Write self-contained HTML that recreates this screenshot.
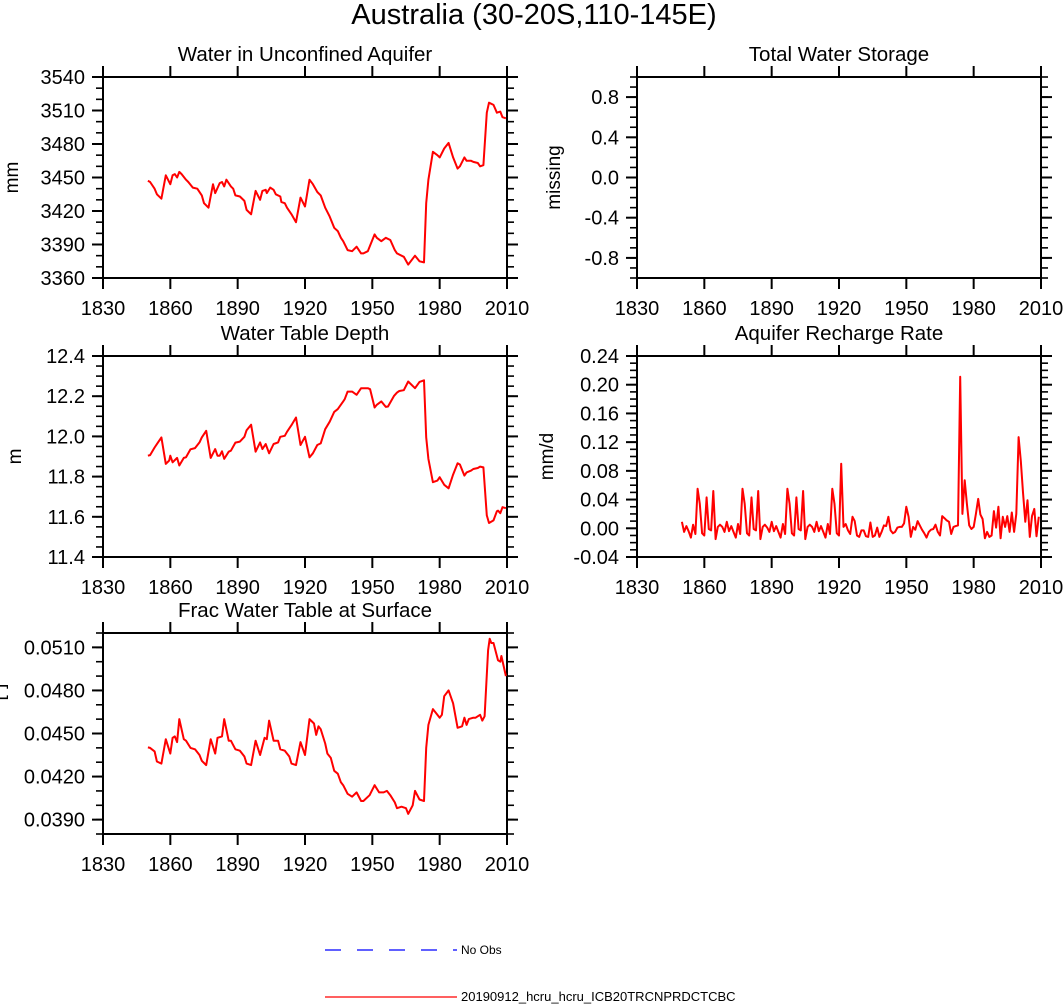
<!DOCTYPE html>
<html><head><meta charset="utf-8"><style>
html,body{margin:0;padding:0;background:#fff;}
svg{display:block;font-family:"Liberation Sans",sans-serif;}
</style></head><body>
<svg id="fig" width="1063" height="1004" viewBox="0 0 1063 1004">
<text x="534" y="24" text-anchor="middle" font-size="29">Australia (30-20S,110-145E)</text>
<g id="panels"></g>
<g>
<line x1="325" y1="950" x2="457" y2="950" stroke="#0000ff" stroke-width="1.3" stroke-dasharray="16,16"/>
<text x="461" y="954" font-size="12">No Obs</text>
<line x1="325" y1="997" x2="457" y2="997" stroke="#ff0000" stroke-width="1.3"/>
<text x="461" y="1001" font-size="13">20190912_hcru_hcru_ICB20TRCNPRDCTCBC</text>
</g>
</svg>
<script>
const xTicks = [1830,1860,1890,1920,1950,1980,2010];

const aqYears = [1850,1851,1853,1854,1856,1858,1860,1861,1862,1863,1864,1865,1867,1868,1870,1872,1874,1875,1877,1879,1880,1882,1883,1884,1885,1887,1888,1889,1891,1893,1894,1896,1898,1900,1901,1902.5,1903,1904.5,1906,1907,1909,1909.5,1911,1912,1914,1916,1918,1920,1922,1923.5,1925.5,1927,1929,1931,1933,1934.6,1936,1937,1939,1941,1943,1945,1946,1948,1951,1952,1954,1956,1958,1960,1961,1964,1966,1969,1971,1973,1974,1975,1977,1979,1980,1982,1984,1986,1988,1989,1991,1992,1994,1995,1997,1998,1999.5,2001,2002,2004,2005.5,2007,2008,2009.5];
const aqValues = [3447,3446,3440,3435,3431,3452,3444,3452,3453,3450,3455,3453,3448,3446,3441,3440,3434,3427,3423,3444,3436,3445,3446,3442,3448,3442,3440,3434,3433,3429,3421,3417,3438,3430,3438,3439,3436,3441,3439,3435,3433,3428,3427,3423,3417,3410,3432,3424,3448,3444,3437,3434,3423,3415,3405,3402,3396,3393,3385,3384,3388,3382,3382,3384,3399,3396,3393,3396,3394,3385,3382,3379,3372,3380,3375,3374,3427,3448,3473,3470,3468,3476,3481,3468,3458,3460,3468,3465,3465,3464,3463,3460,3461,3508,3517,3515,3508,3509,3504,3503];

const wtdYears = [1850,1851,1853,1854.5,1856,1858,1859.5,1860,1861,1863,1864,1866,1867,1869,1871,1873,1874,1876,1878,1880,1881,1882,1883,1884,1886,1887,1889,1891,1893,1894,1896,1898,1900,1901,1902.5,1904,1906,1908,1909,1911,1912,1914,1916,1918,1920,1922,1923.5,1925.5,1927,1929,1931,1933,1934.6,1937,1937.7,1939,1941,1943,1945,1948,1949,1951,1952,1954,1956,1957,1959.7,1961,1962,1964,1966,1969,1971,1973,1974,1975,1977,1979,1980,1982,1984,1986,1988,1989,1991,1992,1994,1995,1997,1998,1999.5,2001,2002,2004,2005.5,2006,2007,2008,2009.5];
const wtdValues = [11.904,11.907,11.945,11.970,11.995,11.863,11.880,11.904,11.871,11.893,11.855,11.893,11.896,11.936,11.942,11.970,11.995,12.028,11.893,11.937,11.904,11.904,11.926,11.888,11.924,11.929,11.969,11.974,11.998,12.031,12.058,11.924,11.970,11.937,11.962,11.916,11.962,11.970,11.998,12.003,12.023,12.056,12.094,11.957,11.998,11.896,11.916,11.957,11.965,12.036,12.073,12.122,12.136,12.174,12.185,12.223,12.223,12.207,12.240,12.240,12.235,12.144,12.157,12.174,12.147,12.149,12.202,12.218,12.226,12.230,12.273,12.240,12.271,12.279,11.995,11.888,11.772,11.780,11.797,11.759,11.742,11.810,11.866,11.860,11.805,11.821,11.830,11.838,11.843,11.850,11.846,11.607,11.569,11.582,11.628,11.631,11.618,11.648,11.643];

const rchStart = 1850;
const rchValues = [.009,-.005,.003,-.004,-.013,.005,-.008,.055,.034,-.007,-.010,.043,-.001,-.003,.052,-.015,.002,.005,.002,-.005,
.009,-.004,.003,-.005,-.013,.006,-.008,.055,.034,-.007,-.010,.043,-.001,-.003,.052,-.015,.002,.005,.001,-.005,
.009,-.004,.003,-.005,-.013,.006,-.008,.055,.034,-.007,-.010,.043,-.001,-.003,.052,-.015,.002,.005,.002,-.005,
.009,-.004,.003,-.005,-.013,.006,-.008,.055,.034,-.007,-.010,.090,.002,.006,-.003,-.008,.016,.010,-.010,-.012,
-.003,-.003,-.011,-.012,.008,-.012,-.010,.001,-.012,-.005,.004,.003,.016,-.003,-.007,-.005,.001,.002,.002,.007,
.030,.016,-.012,.002,-.002,.010,.004,-.002,-.007,-.013,-.005,-.002,-.001,.005,-.005,-.010,.017,.014,.011,.009,
-.008,.002,.003,.004,.211,.020,.067,.034,.004,-.001,.002,.020,.041,.019,.013,-.014,-.005,-.012,-.010,.024,
.001,.030,-.014,.016,.002,.017,-.005,.022,-.005,.020,.127,.094,.050,.009,.039,-.012,.017,.027,-.011,.016];

const fracYears = [1850,1851,1853,1854,1856,1858,1860,1861,1862,1863,1864,1866,1867,1869,1871,1873,1874,1876,1878,1880,1881,1883,1884,1886,1887,1889,1891,1893,1894,1896,1898,1900,1902,1903,1904,1906,1908,1909,1911,1913,1914,1916,1918,1920,1922,1924,1925,1926,1927,1929,1930,1931.5,1933,1934.6,1936,1937,1939,1941,1943,1945,1946,1948.8,1951,1953,1955,1956.5,1958,1960,1961,1963,1965,1966,1968,1969,1971,1973,1974,1975,1977,1978,1980,1981,1982,1984,1986,1988,1990,1991,1992,1993,1995,1996,1998,1999,2000,2001.6,2002.3,2003,2004,2006,2007,2007.5,2009.5];
const fracValues = [.04403,.04400,.04375,.04305,.04290,.04460,.04360,.04470,.04480,.04440,.04600,.04460,.04450,.04400,.04390,.04350,.04310,.04280,.04460,.04360,.04470,.04480,.04600,.04450,.04450,.04390,.04380,.04340,.04290,.04280,.04450,.04350,.04470,.04460,.04590,.04450,.04450,.04390,.04380,.04340,.04290,.04280,.04440,.04350,.04600,.04570,.04490,.04550,.04530,.04430,.04360,.04330,.04240,.04220,.04160,.04140,.04080,.04060,.04090,.04030,.04030,.04070,.04140,.04090,.04090,.04100,.04070,.04020,.03980,.03990,.03980,.03940,.04000,.04100,.04040,.04030,.04400,.04560,.04670,.04650,.04610,.04630,.04760,.04800,.04710,.04540,.04550,.04610,.04560,.04600,.04610,.04610,.04630,.04590,.04620,.05080,.05160,.05130,.05130,.05010,.05000,.05040,.04900];

const NS='http://www.w3.org/2000/svg';
const root=document.getElementById('panels');
function mk(tag,attrs,parent){const e=document.createElementNS(NS,tag);for(const k in attrs)e.setAttribute(k,attrs[k]);(parent||root).appendChild(e);return e;}

function panel(cfg){
  const g=mk('g',{});
  
  
  const L=cfg.left,T=cfg.top,W=404,H=201;
  const xs=y=>L+(y-1830)/180*W;
  const ys=v=>T+H-(v-cfg.ymin)/(cfg.ymax-cfg.ymin)*H;
  const t=mk('text',{x:L+W/2,y:T-16,'text-anchor':'middle','font-size':20.5},g);
  t.textContent=cfg.title;
  
  
  const yl=mk('text',{x:0,y:0,'text-anchor':'middle','font-size':19,transform:`translate(${cfg.ylx},${cfg.lyc||T+H/2}) rotate(-90)`},g);
  yl.textContent=cfg.ylabel;
  
  
  xTicks.forEach(yr=>{
    const x=xs(yr);
    mk('line',{x1:x,y1:T+H,x2:x,y2:T+H+11,stroke:'#000','stroke-width':2},g);
    mk('line',{x1:x,y1:T,x2:x,y2:T-11,stroke:'#000','stroke-width':2},g);
    const lb=mk('text',{x:x,y:T+H+37,'text-anchor':'middle','font-size':20},g);
    lb.textContent=yr;
    
    
  });
  const nMin=Math.round((cfg.ymax-cfg.ymin)/cfg.minor);
  for(let i=0;i<=nMin;i++){
    const v=cfg.ymin+i*cfg.minor, y=ys(v);
    mk('line',{x1:L,y1:y,x2:L-7,y2:y,stroke:'#000','stroke-width':1.6},g);
    mk('line',{x1:L+W,y1:y,x2:L+W+7,y2:y,stroke:'#000','stroke-width':1.6},g);
  }
  cfg.yticks.forEach(v=>{
    const y=ys(v);
    mk('line',{x1:L,y1:y,x2:L-11,y2:y,stroke:'#000','stroke-width':2},g);
    mk('line',{x1:L+W,y1:y,x2:L+W+11,y2:y,stroke:'#000','stroke-width':2},g);
    const lb=mk('text',{x:L-18,y:y+7,'text-anchor':'end','font-size':20},g);
    lb.textContent=v.toFixed(cfg.dec);
    
    
  });
  mk('rect',{x:L,y:T,width:W,height:H,fill:'none',stroke:'#000','stroke-width':2},g);
  if(cfg.xv){
    const d=cfg.xv.map((yr,i)=>(i?'L':'M')+xs(yr).toFixed(1)+','+ys(cfg.vv[i]).toFixed(1)).join('');
    const p=mk('path',{d:d,fill:'none',stroke:'#ff0000','stroke-width':2,'stroke-linejoin':'round'},g);
    
    
  }
}

panel({name:'panel-unconfined-aquifer',left:103,top:77,title:'Water in Unconfined Aquifer',ylabel:'mm',ylx:18,ymin:3360,ymax:3540,minor:10,yticks:[3360,3390,3420,3450,3480,3510,3540],dec:0,xv:aqYears,vv:aqValues});
panel({name:'panel-total-water-storage',left:637,top:77,title:'Total Water Storage',ylabel:'missing',ylx:560,ymin:-1,ymax:1,minor:0.1,yticks:[-0.8,-0.4,0,0.4,0.8],dec:1});
panel({name:'panel-water-table-depth',left:103,top:356,title:'Water Table Depth',ylabel:'m',ylx:21,ymin:11.4,ymax:12.4,minor:0.05,yticks:[11.4,11.6,11.8,12.0,12.2,12.4],dec:1,xv:wtdYears,vv:wtdValues});
const rchYears=rchValues.map((v,i)=>rchStart+i);
panel({name:'panel-aquifer-recharge',left:637,top:356,title:'Aquifer Recharge Rate',ylabel:'mm/d',ylx:553,ymin:-0.04,ymax:0.24,minor:0.01,yticks:[-0.04,0,0.04,0.08,0.12,0.16,0.20,0.24],dec:2,xv:rchYears,vv:rchValues});
panel({name:'panel-frac-water-table',left:103,top:633,title:'Frac Water Table at Surface',ylabel:'[-]',ylx:4,lyc:692,ymin:0.038,ymax:0.052,minor:0.001,yticks:[0.039,0.042,0.045,0.048,0.051],dec:4,xv:fracYears,vv:fracValues});
</script>
</body></html>
